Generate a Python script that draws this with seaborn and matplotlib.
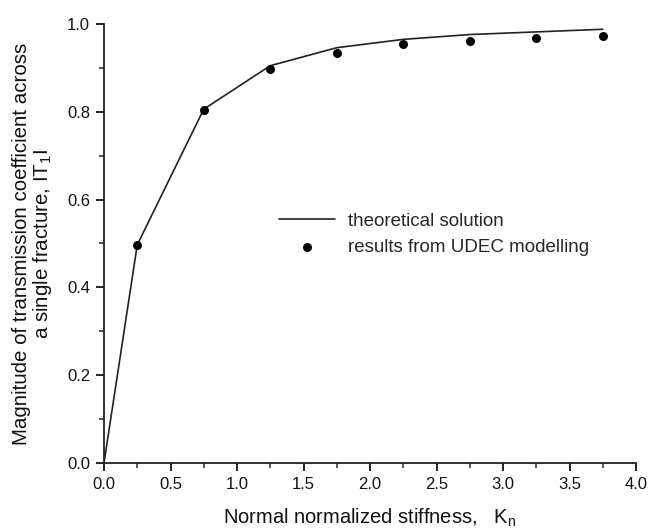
import matplotlib
matplotlib.use("Agg")
import matplotlib.pyplot as plt
from matplotlib.ticker import MultipleLocator
import seaborn as sns
import pandas as pd

# theoretical solution (line)
theory_k = [0.0, 0.25, 0.75, 1.25, 1.75, 2.25, 2.75, 3.25, 3.75]
theory_t = [0.0, 0.497, 0.806, 0.905, 0.946, 0.965, 0.976, 0.982, 0.988]
# UDEC results (points)
udec_k = [0.25, 0.75, 1.25, 1.75, 2.25, 2.75, 3.25, 3.75]
udec_t = [0.497, 0.804, 0.897, 0.935, 0.954, 0.962, 0.969, 0.972]

x_ticks = [0.0, 0.5, 1.0, 1.5, 2.0, 2.5, 3.0, 3.5, 4.0]
y_ticks = [0.0, 0.2, 0.4, 0.6, 0.8, 1.0]

sns.set_theme(style="ticks")
plt.rcParams['font.family'] = ['Liberation Sans', 'DejaVu Sans']

fig = plt.figure(figsize=(6.58, 5.28), dpi=100)
ax = fig.add_axes([104/658, 1 - 463/528, (636-104)/658, (463-24)/528])

df_line = pd.DataFrame({"k": theory_k, "t": theory_t})
df_pts = pd.DataFrame({"k": udec_k, "t": udec_t})

sns.lineplot(data=df_line, x="k", y="t", ax=ax, color="#222222", linewidth=1.2,
             label="theoretical solution", sort=False)
sns.scatterplot(data=df_pts, x="k", y="t", ax=ax, color="black", s=42,
                edgecolor="black", linewidth=0, label="results from UDEC modelling",
                zorder=3)

ax.set_xlim(0, 4.0)
ax.set_ylim(0, 1.0)
ax.set_xticks(x_ticks)
ax.set_yticks(y_ticks)
ax.set_xticklabels([f"{v:.1f}" for v in x_ticks])
ax.set_yticklabels([f"{v:.1f}" for v in y_ticks])
ax.xaxis.set_minor_locator(MultipleLocator(0.25))
ax.yaxis.set_minor_locator(MultipleLocator(0.1))
ax.tick_params(which="major", length=6, width=1.3, direction="out", labelsize=12, colors="#111111", pad=4)
ax.tick_params(which="minor", length=3.5, width=1.1, direction="out")
for s in ["left", "bottom"]:
    ax.spines[s].set_linewidth(1.3)
    ax.spines[s].set_color("#222222")
sns.despine(ax=ax)
for s in ["left", "bottom"]:
    ax.spines[s].set_clip_on(False)

ax.set_xlabel("Normal normalized stiffness,   K$_\\mathregular{n}$", fontsize=14.5, labelpad=11, color="#111111")
ax.set_ylabel("Magnitude of transmission coefficient across\na single fracture, IT$_\\mathregular{1}$I",
              fontsize=14.8, labelpad=9, color="#111111", linespacing=1.05)

leg = ax.legend(loc="upper left", bbox_to_anchor=(158/532, 1 - (196-24)/439), frameon=False,
                fontsize=13.5, handlelength=3.0, handletextpad=0.7, labelspacing=0.45)

fig.savefig("out.png", dpi=100)
